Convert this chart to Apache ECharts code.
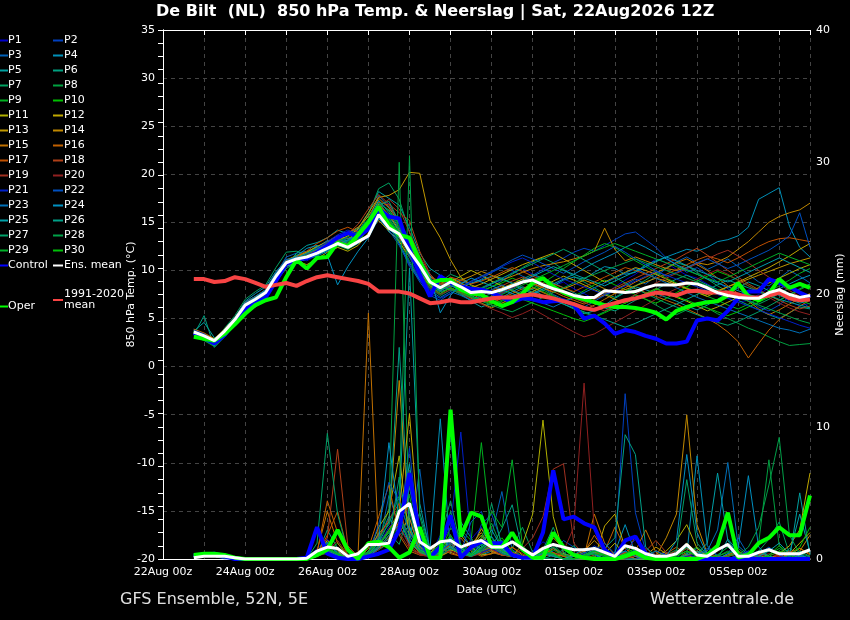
<!DOCTYPE html>
<html><head><meta charset="utf-8">
<script src="https://cdn.jsdelivr.net/npm/echarts@6/dist/echarts.min.js"></script>
<style>html,body{margin:0;padding:0;background:#000}#c{width:850px;height:620px}</style>
</head><body><div id="c"></div><script>
// x: lead hours since 22Aug 00z; first point 22Aug 18Z, 6-hourly
const firstHour = 18, stepHours = 6;
const tickLabels = ['22Aug 00z','24Aug 00z','26Aug 00z','28Aug 00z','30Aug 00z','01Sep 00z','03Sep 00z','05Sep 00z'];

const tempMean = [3.6,3.2,2.7,3.7,4.9,6.4,7.0,7.7,9.4,10.8, 11.2,11.4,11.8,12.3,12.8,12.4,13.0,13.6,15.8,14.4, 13.8,12.0,10.5,8.8,8.2,8.8,8.3,7.7,7.8,7.7, 8.0,8.4,8.8,9.0,8.5,8.1,7.8,7.4,7.2,7.2, 7.9,7.8,7.7,7.8,8.2,8.5,8.5,8.5,8.7,8.6, 8.2,7.7,7.4,7.2,7.1,7.1,7.7,8.0,7.5,7.2,7.4];
const tempControl = [3.5,3.0,2.4,3.3,4.6,6.0,6.6,7.2,8.9,10.7, 11.1,11.3,11.9,12.6,13.4,13.9,13.5,14.3,16.4,15.6, 15.4,12.2,9.6,7.3,9.4,8.7,8.3,8.1,8.0,7.7, 7.2,6.7,7.1,7.0,6.7,6.8,6.9,6.4,5.0,5.3, 4.5,3.4,3.8,3.6,3.2,2.9,2.4,2.4,2.6,4.8, 5.0,4.8,5.8,7.1,7.8,7.8,9.1,8.7,8.3,7.7,7.2];
const tempOper = [3.1,2.9,2.7,3.4,4.4,5.5,6.4,6.9,7.2,9.3, 11.1,10.2,11.3,11.4,12.9,12.5,13.7,15.0,16.6,14.7, 13.7,13.4,11.0,8.7,9.0,9.0,8.0,7.6,7.5,6.8, 6.3,6.7,7.6,8.7,9.2,8.3,7.7,7.3,7.0,6.7, 6.4,6.2,6.2,6.1,5.9,5.6,4.9,5.8,6.2,6.5, 6.7,6.8,7.4,8.7,7.3,6.9,7.6,9.1,8.2,8.6,8.2];
const tempClim = [9.1,9.1,8.8,8.9,9.3,9.1,8.7,8.3,8.5,8.7, 8.4,8.9,9.3,9.5,9.3,9.1,8.9,8.6,7.8,7.8, 7.8,7.6,7.1,6.6,6.7,6.9,6.7,6.7,6.9,7.1, 7.2,7.2,7.4,7.5,7.3,7.1,6.8,6.5,6.1,5.9, 6.3,6.6,6.9,7.1,7.4,7.7,7.6,7.4,7.8,7.9, 7.7,7.7,7.7,7.5,7.2,7.2,7.4,7.7,7.1,6.9,7.0];

const precMean = [0.1,0.2,0.2,0.2,0.1,0,0,0,0,0, 0,0.05,0.6,0.9,0.8,0.2,0.4,1.1,1.1,1.2, 3.6,4.2,1.3,0.8,1.3,1.4,0.9,1.2,1.4,0.9, 0.9,1.3,0.8,0.3,0.8,1.1,0.9,0.7,0.7,0.8, 0.5,0.2,1.0,0.8,0.4,0.2,0.2,0.4,1.1,0.3, 0.2,0.7,1.1,0.2,0.2,0.5,0.7,0.4,0.4,0.4,0.7];
const precControl = [0.3,0.3,0.4,0.2,0,0,0,0,0,0, 0,0.1,2.4,0.4,0.1,0,0,0.2,0.4,0.7, 2.2,6.5,1.7,0.1,0.9,3.3,0.1,0.9,1.3,1.2, 1.2,0.3,0.1,0.1,2.0,6.7,3.0,3.2,2.7,2.4, 0.7,0.1,1.4,1.7,0.4,0.1,0,0,0,0, 0,0,0,0,0,0,0,0,0,0,0];
const precOper = [0.3,0.4,0.4,0.3,0.1,0,0,0,0,0, 0,0,0.3,0.7,2.2,0.7,0,1.2,1.3,0.9, 0.1,0.5,2.4,0.1,0.1,11.3,1.7,3.5,3.2,0.9, 0.9,2.0,0.7,0.1,0.1,2.0,0.9,0.3,0.1,0, 0,0,0.2,0.5,0.1,0,0,0,0,0, 0.3,1.0,3.5,0.1,0.3,1.2,1.6,2.4,1.8,1.8,4.8];

const tP1 = [3.8,3.3,2.5,3.5,4.6,6.2,6.9,7.5,9.0,10.6, 11.5,11.0,11.6,12.6,13.4,13.0,13.8,14.5,16.5,17.0, 15.0,12.5,9.5,8.0,7.6,8.4,8.1,7.4,7.9,8.6, 9.0,9.8,10.2,9.6,9.0,8.4,8.8,8.1,7.6,7.0, 7.4,8.3,9.0,9.6,10.4,11.2,10.8,10.1,9.5,9.2, 8.6,8.0,7.1,6.7,6.9,7.5,8.2,7.6,6.8,6.3,6.6];
const tP2 = [3.5,3.0,2.3,3.9,5.1,6.6,7.3,7.9,9.8,11.2, 11.0,11.8,12.1,12.0,12.9,12.6,13.2,14.8,17.2,15.5, 12.8,10.4,9.0,8.2,7.8,8.9,8.5,8.0,7.3,7.0, 7.6,8.1,8.7,9.5,10.1,10.8,11.3,11.9,12.3,12.0, 12.6,13.2,13.8,14.0,13.2,12.4,11.3,10.6,9.8,10.3, 9.6,8.8,8.1,7.4,7.0,6.2,5.8,6.4,7.3,6.9,6.1];
const tP3 = [3.9,3.4,2.8,3.3,4.4,6.0,6.5,7.6,9.6,11.4, 11.8,12.0,12.4,12.2,13.0,13.6,14.2,15.2,17.8,16.6, 15.2,13.1,11.4,9.2,8.4,9.3,8.8,8.6,9.1,9.8, 10.3,10.0,9.4,9.0,8.2,7.5,7.0,6.6,6.2,6.8, 7.4,7.9,8.5,9.1,8.6,9.4,10.2,10.9,11.4,10.8, 10.1,10.6,11.2,10.4,9.6,8.8,8.4,9.2,10.0,9.4,8.7];
const tP4 = [3.4,2.9,2.2,3.6,5.0,6.8,7.6,8.3,9.9,11.0, 11.3,11.6,12.4,13.1,12.6,12.2,12.8,13.5,15.6,14.0, 13.2,12.0,10.8,9.6,8.6,7.9,8.2,8.7,9.0,9.4, 9.2,8.6,8.0,7.6,7.9,8.4,9.0,9.3,9.1,9.8, 10.4,10.2,9.6,9.8,10.6,11.0,11.4,11.8,12.2,12.0, 12.4,13.0,13.2,13.6,14.5,17.4,18.0,18.6,14.6,12.4,11.4];
const tP5 = [3.7,4.6,3.0,3.4,4.8,6.0,6.9,7.4,9.1,10.4, 11.8,12.6,12.9,13.4,14.2,13.8,14.4,16.0,18.2,17.5, 16.8,14.5,11.8,10.2,9.5,8.7,7.6,6.8,6.2,6.6, 7.2,7.8,8.3,8.0,7.4,7.0,6.5,6.0,5.5,5.8, 6.4,7.1,7.7,8.3,8.0,7.6,7.2,6.8,6.3,5.9, 6.4,7.0,7.6,8.2,8.8,8.4,7.9,7.4,7.0,6.6,6.9];
const tP6 = [3.3,5.3,2.0,3.1,4.3,5.6,6.2,7.0,8.8,10.2, 10.9,11.4,11.7,12.3,13.2,12.8,13.6,14.9,16.4,15.4, 13.6,11.9,10.1,8.6,7.8,8.1,7.5,6.9,7.2,7.6, 8.1,8.6,9.1,9.6,9.2,8.7,8.2,7.7,7.1,6.6, 6.1,5.8,6.3,6.9,7.4,8.0,8.6,9.1,9.5,9.0, 8.5,8.0,7.5,6.9,6.4,5.9,5.4,5.0,5.6,6.2,6.0];
const tP7 = [3.6,3.1,2.6,4.0,5.3,7.0,7.8,8.5,10.3,11.9, 12.0,11.6,12.2,12.9,13.5,13.1,14.0,15.8,18.5,19.1, 17.4,14.0,11.2,9.4,8.8,9.6,9.2,8.4,7.8,8.3, 8.9,9.6,10.3,10.9,11.3,10.8,10.1,9.4,8.8,8.2, 7.6,7.2,7.8,8.4,9.0,9.7,10.3,10.8,10.5,9.8, 9.1,8.4,7.8,7.3,6.8,6.5,7.0,7.6,8.2,8.7,8.3];
const tP8 = [3.2,2.7,2.1,3.2,4.5,6.1,6.7,7.4,9.2,10.5, 11.2,11.8,12.6,12.0,12.4,12.9,13.4,14.2,16.0,14.8, 13.1,11.0,9.2,8.1,7.4,8.0,7.8,7.2,6.6,6.2, 6.8,7.3,7.9,8.5,8.0,7.4,6.8,6.2,5.6,5.2, 5.7,6.3,6.9,7.4,7.0,6.4,5.8,5.4,5.9,6.5, 6.1,5.5,5.0,4.5,4.0,3.6,3.1,2.6,2.2,2.3,2.4];
const tP9 = [3.5,3.0,2.4,3.8,5.0,6.5,7.1,7.8,9.5,11.0, 11.6,11.9,12.3,12.8,13.3,13.0,13.7,15.0,17.0,16.2, 14.6,12.4,10.3,9.0,8.5,9.0,8.6,8.1,7.6,7.1, 6.6,7.2,7.6,8.1,8.7,9.4,10.2,10.9,11.6,12.3, 12.8,12.4,11.7,11.0,10.4,9.8,9.2,8.7,8.2,7.8, 7.3,6.9,6.4,6.0,6.5,7.1,7.8,8.4,9.0,9.7,10.2];
const tP10 = [3.4,2.9,2.3,3.5,4.7,6.3,6.8,7.6,9.3,10.9, 11.1,11.3,11.6,12.4,12.7,12.2,12.9,14.4,16.8,15.0, 13.4,11.7,9.8,8.4,7.9,8.5,8.1,7.5,7.9,8.3, 8.7,9.2,8.8,8.3,7.8,7.3,6.8,7.3,7.9,8.5, 9.0,8.5,8.0,7.5,7.0,6.6,7.1,7.7,8.3,8.9, 9.4,9.9,9.5,9.0,8.4,7.9,7.4,6.9,7.4,8.0,8.5];
const tP11 = [3.7,3.2,2.7,3.6,4.9,6.4,7.0,7.7,9.4,10.7, 11.0,10.6,11.2,11.9,12.4,12.0,12.6,13.9,15.2,14.1, 13.0,11.4,9.9,8.9,8.3,8.8,9.4,10.0,9.5,8.9, 8.4,7.9,7.4,7.8,8.3,8.9,9.4,9.0,8.5,8.0, 7.5,7.0,6.6,7.1,7.6,8.1,7.7,7.2,6.8,6.3, 5.8,6.2,6.7,7.2,7.7,8.2,8.7,9.2,9.7,10.2,10.6];
const tP12 = [3.8,3.4,2.9,3.9,5.1,6.7,7.3,8.0,9.7,11.1, 11.5,11.9,12.5,13.0,13.6,13.3,13.9,14.6,16.9,15.8, 14.2,12.3,10.6,9.4,8.6,9.2,8.7,8.2,8.6,9.1, 9.6,10.1,10.6,11.0,11.4,11.8,11.2,10.6,10.0,9.4, 8.8,9.3,9.8,10.3,10.0,9.6,9.1,8.6,8.1,7.7, 7.3,7.8,8.3,8.8,9.3,9.8,10.3,10.9,11.5,12.2,12.8];
const tP13 = [3.6,3.1,2.6,3.7,4.8,6.2,6.8,7.5,9.1,10.5, 10.8,11.2,11.9,12.6,13.1,13.6,14.3,16.0,17.6,17.8, 18.4,20.2,20.1,15.2,13.4,11.1,9.3,8.5,8.1,7.8, 8.2,8.6,9.1,8.7,8.2,7.7,8.1,8.5,9.0,8.6, 8.1,7.6,8.0,8.4,8.8,9.2,8.9,8.5,8.1,7.8, 7.5,7.9,8.3,8.7,9.1,9.5,9.9,10.3,10.7,11.0,11.3];
const tP14 = [3.5,3.0,2.5,3.4,4.6,6.0,6.6,7.3,9.0,10.4, 11.2,11.7,12.2,12.7,13.4,13.9,14.5,15.6,17.5,16.5, 15.0,12.8,10.4,8.8,8.0,8.5,9.0,9.4,9.9,9.5, 9.0,9.4,9.8,10.2,10.5,10.7,10.9,11.2,11.5,12.0, 14.4,12.2,11.0,11.4,11.0,10.6,10.2,10.0,10.3,10.8, 10.6,10.9,11.4,12.2,13.0,14.0,15.0,15.6,16.0,16.3,17.0];
const tP15 = [3.9,3.5,2.9,3.8,5.0,6.5,7.2,7.9,9.5,11.0, 11.4,11.8,12.1,12.5,13.0,12.6,13.3,14.5,16.7,15.8, 14.0,11.8,9.8,8.4,7.6,8.2,7.7,7.1,6.6,6.1, 6.6,7.1,7.7,8.2,7.7,7.2,6.8,6.3,5.9,6.4, 7.0,7.6,8.2,8.8,9.3,9.8,10.2,10.8,11.2,10.6, 10.0,9.2,8.4,7.6,6.8,6.0,5.4,5.9,6.5,7.1,7.6];
const tP16 = [3.6,3.2,2.6,3.6,4.8,6.3,7.0,7.7,9.3,10.8, 11.2,11.5,12.0,12.6,13.0,12.7,13.4,14.7,16.2,15.0, 13.4,11.5,9.8,8.6,8.0,8.6,8.2,7.6,7.0,6.6, 7.1,7.6,8.1,8.6,8.2,7.8,7.3,6.9,6.5,7.0, 7.5,8.0,8.5,8.1,7.7,7.3,6.9,6.5,6.0,5.5, 5.0,4.4,3.6,2.6,0.9,2.4,3.8,4.9,5.6,6.3,6.9];
const tP17 = [3.7,3.3,2.8,3.7,4.9,6.5,7.2,7.9,9.6,11.0, 11.5,12.0,12.8,13.4,14.1,14.5,14.0,15.1,17.1,16.8, 15.2,13.0,10.8,9.3,8.7,9.3,9.0,8.6,8.9,9.3, 9.8,10.3,9.9,9.4,9.0,8.6,8.2,7.8,8.3,8.8, 9.3,9.8,10.3,10.0,9.6,9.2,9.6,10.1,10.6,11.1, 11.5,11.2,10.8,11.3,11.9,12.5,13.0,13.3,13.4,13.2,13.0];
const tP18 = [3.5,3.1,2.5,3.5,4.7,6.2,6.9,7.6,9.2,10.6, 11.0,11.4,12.0,12.6,13.3,13.8,14.8,16.4,17.9,16.9, 16.0,15.2,12.0,9.6,8.5,9.0,8.6,8.0,7.5,7.9, 8.4,8.9,9.3,8.9,8.4,8.0,7.5,7.1,6.7,7.2, 7.7,8.2,8.7,9.2,9.7,10.2,10.7,11.2,11.8,12.3, 11.6,10.8,10.0,9.3,8.6,8.0,7.4,6.9,6.4,6.0,6.3];
const tP19 = [3.6,3.1,2.5,3.6,4.8,6.4,7.0,7.6,9.3,10.7, 11.1,11.6,12.2,12.8,13.2,12.8,13.5,14.9,16.6,17.4, 16.4,14.0,11.5,9.6,8.6,8.2,7.7,7.2,6.8,7.2, 7.7,8.2,8.7,9.2,8.7,8.2,7.7,7.2,6.7,6.2, 5.8,6.3,6.9,7.5,8.1,8.7,9.2,9.7,10.2,10.7, 11.2,11.7,12.1,11.5,10.8,10.0,9.3,8.6,7.9,7.3,6.8];
const tP20 = [3.4,2.9,2.4,3.4,4.6,6.1,6.8,7.5,9.1,10.5, 10.9,11.3,11.8,12.4,12.9,12.5,13.2,14.6,16.3,15.1, 13.6,11.6,9.6,8.2,7.5,8.0,7.6,7.0,6.5,6.0, 5.6,5.1,5.5,6.0,5.4,4.8,4.2,3.6,3.1,3.4, 4.0,4.6,5.2,5.8,6.4,7.0,7.6,8.1,8.6,9.1, 9.6,10.1,9.6,9.0,8.4,7.8,7.2,6.6,6.1,5.7,5.4];
const tP21 = [3.8,3.4,2.7,3.8,5.0,6.5,7.1,7.8,9.5,10.9, 11.3,11.7,12.3,13.0,13.7,14.2,13.8,14.6,16.0,15.3, 13.8,11.4,9.0,7.6,7.1,7.6,8.2,8.8,9.3,9.8, 10.4,10.9,11.3,10.8,10.2,9.6,9.1,8.7,8.3,7.9, 7.5,7.9,8.4,8.9,9.4,9.9,9.5,9.1,8.7,8.3, 7.9,7.5,7.1,6.7,6.3,5.9,5.5,5.1,4.7,4.3,4.0];
const tP22 = [3.5,3.0,2.4,3.5,4.7,6.2,6.8,7.5,9.2,10.6, 11.0,11.4,11.9,12.3,12.9,13.4,12.9,13.6,15.4,14.2, 12.6,10.6,8.8,7.4,6.9,7.6,8.3,8.9,9.4,9.9, 10.5,11.1,11.6,11.2,10.7,10.2,9.7,10.3,10.9,11.4, 11.9,12.5,11.9,11.2,10.6,10.0,9.4,9.8,10.3,10.8, 11.2,10.7,10.2,10.6,11.1,11.6,12.1,12.8,13.6,16.0,12.4];
const tP23 = [3.7,3.2,2.6,3.8,5.1,6.7,7.3,8.0,9.7,11.1, 11.4,11.2,11.5,12.0,12.6,13.1,13.7,14.4,15.9,14.6, 12.8,10.8,9.0,7.9,7.2,7.8,7.4,6.9,7.4,8.0, 8.5,8.0,7.5,7.0,6.6,6.2,6.7,7.2,7.7,8.2, 8.7,9.2,9.7,10.2,9.7,9.2,8.7,8.2,7.7,7.2, 6.8,6.4,6.0,5.6,5.2,4.8,4.4,4.0,3.8,3.5,3.9];
const tP24 = [3.6,3.1,2.5,3.6,4.9,6.5,7.2,7.9,9.6,10.9, 11.5,12.3,12.6,11.6,8.5,10.4,12.0,13.4,15.4,14.3, 13.4,12.6,11.0,9.4,5.6,7.4,8.6,9.2,8.8,8.4, 8.0,7.6,7.2,7.6,8.1,8.6,9.1,9.6,10.2,10.8, 11.3,11.8,12.4,12.9,12.4,11.8,11.2,10.6,10.1,9.6, 9.1,8.7,8.3,7.9,7.5,7.2,7.6,8.1,8.6,9.1,9.5];
const tP25 = [3.3,2.8,2.2,3.3,4.5,6.0,6.6,7.3,9.0,10.4, 10.8,11.2,11.6,12.1,12.7,13.2,13.8,15.2,17.3,16.0, 14.4,12.2,10.0,8.6,7.9,8.4,8.0,7.4,6.9,7.3, 7.8,8.3,8.9,9.4,9.9,10.4,10.0,9.6,9.2,8.8, 8.4,8.9,9.4,9.9,10.4,10.9,11.4,11.0,10.5,10.0, 9.6,9.2,8.8,9.3,9.8,10.3,10.8,11.3,10.8,10.3,9.8];
const tP26 = [3.7,3.3,2.7,3.7,4.9,6.4,7.1,7.8,9.5,10.9, 11.3,11.8,12.2,12.7,13.3,12.8,13.4,14.8,16.6,15.6, 14.1,12.0,9.9,8.6,8.0,8.6,8.2,7.7,8.1,8.6, 9.1,8.7,8.2,7.7,7.3,6.9,6.5,6.1,5.7,5.3, 4.9,4.5,4.1,4.5,5.0,5.5,6.0,6.5,7.0,7.5, 8.0,8.5,9.0,8.6,8.2,7.8,7.4,7.0,6.7,6.4,6.1];
const tP27 = [3.5,3.1,2.6,3.6,4.8,6.3,6.9,7.6,9.3,10.7, 11.1,11.5,11.8,12.2,12.8,12.4,13.1,14.5,16.8,17.2, 15.0,12.4,10.1,8.8,8.2,8.7,8.3,7.8,8.2,8.7, 9.2,9.7,10.2,10.7,11.2,11.7,12.2,11.7,11.1,10.5, 9.9,9.3,8.7,8.1,7.6,7.1,6.6,6.2,5.8,5.4, 5.0,4.6,4.3,4.7,5.2,5.7,6.3,6.9,7.5,8.1,8.6];
const tP28 = [3.4,3.0,2.3,3.4,4.6,6.1,6.7,7.4,9.1,10.6, 11.0,11.4,11.9,12.4,13.0,13.5,14.0,15.4,17.0,16.3, 14.8,12.9,10.7,9.1,8.4,8.0,7.6,7.2,6.8,6.4, 6.0,5.7,6.2,6.7,7.2,7.7,8.2,8.7,9.2,9.6, 10.0,10.4,10.8,11.2,10.8,10.4,10.0,9.6,9.2,8.8, 8.4,8.0,7.6,7.2,6.8,6.4,6.0,5.6,5.2,4.8,4.5];
const tP29 = [3.6,3.2,2.6,3.7,4.9,6.4,7.0,7.7,9.4,10.8, 11.2,11.6,12.0,12.5,13.0,12.6,13.3,14.7,16.5,15.4, 13.9,11.9,10.0,8.7,8.1,8.7,8.3,7.8,7.4,7.0, 7.5,8.0,8.5,9.0,9.5,10.0,10.5,11.0,11.5,12.0, 12.4,12.8,12.4,12.0,11.6,11.2,10.8,10.4,10.0,9.6, 9.2,8.8,9.3,9.8,10.3,10.8,11.3,11.8,11.4,11.0,10.6];
const tP30 = [3.5,3.0,2.5,3.5,4.7,6.2,6.9,7.6,9.2,10.6, 11.0,11.4,11.8,12.3,12.9,12.5,13.2,14.5,16.2,15.2, 13.7,11.6,9.6,8.3,7.6,8.2,7.8,7.3,6.9,6.5, 6.9,7.4,7.0,6.6,6.2,5.8,5.4,5.0,4.7,5.1, 5.6,6.1,6.6,7.1,7.6,8.1,7.7,7.3,6.9,6.5, 6.1,5.7,5.3,5.7,6.2,6.7,7.2,7.7,7.3,6.9,6.5];

const pP1 = [0.2,0.3,0.3,0.1,0,0,0,0,0,0, 0,0,0.8,1.5,0.6,0,0,0.4,1.8,2.6, 5.2,3.1,0.6,0.2,1.8,0.9,0.3,1.5,2.4,1.1, 0.4,0.2,0,0.6,1.3,0.8,0.2,0,0,0.5, 0.8,0.3,0,0,0,0.2,0.5,0,0,0, 0,0.3,0.9,0.2,0,0,0,0.4,0.6,0.2,0];
const pP2 = [0.1,0.2,0.2,0,0,0,0,0,0,0, 0,0,0.3,0.4,0,0,0.2,1.2,1.6,0.8, 2.2,8.4,1.0,0.3,0.5,9.6,0.8,0.4,2.6,3.4, 1.2,0.5,0.2,0,0.3,0.6,1.4,0.9,0.3,0, 0,0.3,12.5,3.5,0.6,0,0,0,0.2,0.1, 0,0,0,0.3,0.1,0,0,0,0,0.2,0];
const pP3 = [0.3,0.2,0.4,0.2,0,0,0,0,0,0, 0,0,0.2,1.2,0.4,0,0,0.6,0.9,4.8, 2.5,1.2,6.8,0.4,0.2,1.6,0.5,1.2,0.8,1.8, 5.1,0.7,0.2,0,0,0.8,0.4,0,0,0, 0.6,0,0,0,0,0,0,0,1.2,0.3, 0,0,0.4,1.6,0.3,0,0,0,0,0.2,0];
const pP4 = [0.2,0.2,0.3,0.1,0,0,0,0,0,0, 0,0,0.4,0.8,0.2,0,0,0.3,1.5,3.2, 1.8,2.5,0.5,0.8,10.6,0.4,2.1,0.9,0.3,0.6, 1.4,0.4,0.1,0,0.4,0.9,0.3,0,0,0, 0,0.5,2.6,0.4,0,0,0,0,0.3,7.8, 1.0,0.2,0,0,0,0.4,0.2,0,0,0,0];
const pP5 = [0.3,0.4,0.3,0.2,0,0,0,0,0,0, 0,0,0.5,0.9,0.3,0,0,0.2,0.7,1.2, 3.8,22.0,4.2,0.6,0.4,1.4,0.8,0.3,0.6,1.0, 0.6,0.3,0,0.2,0.8,0.5,0,0,0.1,0, 0,0,0,0,0,0,0,0,0.4,0.8, 0.3,0,1.5,0.6,0,0,0,0,0,5.0,0.3];
const pP6 = [0.2,0.3,0.2,0.1,0,0,0,0,0,0, 0,0,0.3,2.2,0.8,0.2,0,0.5,2.0,1.4, 6.2,1.8,3.5,0.8,0.3,0.6,2.8,1.6,0.4,0.9, 2.3,4.1,0.6,0.2,0,0.3,0.7,0.2,0,0, 0,0.2,0.4,0,0,0,0,0.3,1.2,0.4, 0,0,0,0.2,0.6,0.2,0,0,0.8,0.3,0];
const pP7 = [0.3,0.2,0.3,0.2,0,0,0,0,0,0, 0,0,0.2,0.6,0.3,0,0,0.8,1.2,2.0, 1.1,3.6,0.7,0.2,1.6,4.4,0.9,0.4,1.2,0.5, 0.3,0.8,2.4,0.5,0.1,0,0.4,1.0,0.3,0, 0,0,0.6,0.2,0,0,0,0,0,0.3, 0.5,0.2,0,0,0,0.6,1.5,2.8,0.4,0,0.2];
const pP8 = [0.2,0.2,0.3,0.1,0,0,0,0,0,0, 0,0,0.4,1.0,0.5,0,0,0.3,1.4,3.8, 30.0,2.4,0.6,0.3,0.8,1.8,0.5,0.2,0.9,2.7, 0.8,0.3,0,0,0.6,1.1,0.3,0,0,0, 0.2,0,0,0,0,0,0.3,0.7,0.2,0, 0,0,0.3,0.8,0.2,1.2,7.5,1.0,0.2,0,0];
const pP9 = [0.3,0.3,0.2,0.2,0,0,0,0,0,0, 0,0,0.3,0.7,0.2,0,0,0.4,0.8,1.6, 2.4,4.8,1.2,0.4,0.6,1.0,2.2,1.4,8.8,1.6, 0.5,0.2,0,0.3,0.9,0.4,0,0,0,0.2, 0.4,0,0,0,0,0,0,0,0.5,0.9, 0.3,0,0,0,0,0.4,0.8,0.3,0,0,0];
const pP10 = [0.3,0.4,0.3,0.2,0,0,0,0,0,0, 0,0,0.2,0.5,1.2,0.3,0,0.6,1.4,0.9, 4.4,2.0,0.8,0.2,0.4,2.4,1.1,0.6,0.3,0.8, 1.6,0.6,0.2,0,0.3,0.7,0.2,0,0.4,0.9, 0.3,0,0,0,0.3,0.6,0.2,0,0,0, 0,0.2,0.5,0,0,0,0.3,1.0,0.4,0.2,0];
const pP11 = [0.2,0.2,0.2,0.1,0,0,0,0,0,0, 0,0,0.3,0.8,0.4,0,0,0.5,2.4,3.6, 7.8,1.5,0.4,0.2,0.3,0.7,0.4,0.9,1.8,0.6, 0.3,0.2,1.1,3.4,10.5,3.2,0.4,0.2,0,0, 0.4,1.2,0.3,0,0,0.2,0.6,1.4,2.6,0.8, 0.2,0,0,0,0,0.3,0,0,0.4,1.2,2.0];
const pP12 = [0.2,0.3,0.2,0.1,0,0,0,0,0,0, 0,0,0.4,1.4,0.6,0,0,0.3,1.0,2.2, 3.6,11.0,1.4,0.5,0.2,0.6,1.8,0.9,0.3,0.4, 0.7,0.3,0,0.2,0.5,1.6,0.8,0.3,0,0, 2.5,3.4,0.8,0.2,0,0,0,0.4,1.2,0.5, 0,0,0.2,0.5,0.3,0,0,0.4,1.0,2.2,6.5];
const pP13 = [0.2,0.2,0.3,0.1,0,0,0,0,0,0, 0,0,0.2,0.6,0.3,0,0,0.4,0.8,1.2, 2.0,3.1,0.6,0.4,1.5,0.8,0.3,0.7,2.3,1.0, 0.4,0.9,0.3,0,0.2,0.4,0.2,0,0.2,0.5, 0.3,0,0.4,0,0.3,0.9,0.4,0,0.2,0.6, 0.2,0,0,0,0.4,0.2,0,0,0.3,0.8,0.4];
const pP14 = [0.2,0.3,0.2,0.1,0,0,0,0,0,0, 0,0,0.3,0.9,0.3,0,0,0.6,1.9,2.8, 13.5,2.2,0.5,0.3,0.9,0.5,0.2,1.1,2.0,0.7, 0.3,0.2,0,0.5,0.9,0.3,0,0.3,0.6,1.4, 0.6,0.2,0.5,0.3,0,0.2,1.6,3.4,10.9,2.6, 0.4,0,0,0,0.2,0.5,0.2,0,0,0.6,1.8];
const pP15 = [0.2,0.2,0.2,0.1,0,0,0,0,0,0, 0,0,0.6,3.6,1.2,0.2,0.5,18.6,0.8,1.6, 2.8,4.2,0.9,0.3,0.4,1.2,0.5,0.2,0.6,0.9, 0.4,0.2,0,0.2,0.6,0.3,0,0,0.2,3.4, 1.2,0.3,0,0.6,2.2,0.5,0,0,0.3,0.6, 0.2,0,0,0,0,0.3,0.7,0.2,0,0,0];
const pP16 = [0.2,0.2,0.3,0.1,0,0,0,0,0,0, 0,0,0.5,4.4,2.0,0.3,0,0.8,3.2,5.6, 1.8,0.6,0.3,0.2,0.5,0.9,1.6,0.6,0.2,0.4, 1.1,0.5,0.2,0,0.3,0.8,0.3,0,0.5,1.8, 0.6,2.4,0.8,0.2,0,0,0.4,0.9,0.3,0, 0,0,0.3,0.6,0.2,0,0,0,0.5,0.8,0.3];
const pP17 = [0.2,0.3,0.2,0.1,0,0,0,0,0,0, 0,0,0.4,1.8,3.6,0.6,0,0.4,1.2,2.2, 3.5,1.2,0.5,0.3,0.9,0.4,0.2,0.8,1.6,0.5, 0.3,0.9,0.4,0,0.2,0.5,0.2,0,0,0.3, 0.6,0.2,0,1.8,0.5,0,0,0.3,0.8,0.3, 0,0,0,0.2,0.4,0.2,0,0.3,0.6,0.2,0];
const pP18 = [0.2,0.2,0.2,0.1,0,0,0,0,0,0, 0,0,0.3,1.6,8.3,1.0,0.2,0.4,1.6,3.0, 4.2,0.8,0.4,0.2,0.6,1.0,0.4,0.2,0.5,0.9, 0.4,0.2,0,0.3,0.6,0.2,0,0,0.2,0.6, 0.3,0,0,0.2,0.6,1.4,0.5,0,0,0.2, 0.4,0.2,0,0,0,0.3,0.8,0.3,0,0,0];
const pP19 = [0.2,0.2,0.3,0.1,0,0,0,0,0,0, 0,0,0.2,0.6,1.4,0.3,0,0.3,0.9,1.8, 2.5,1.0,0.4,0.2,0.3,0.8,0.5,0.2,0.4,0.7, 0.3,0.2,0.8,1.6,3.2,6.8,7.2,1.2,0.3,0, 0,0.2,0.5,0.2,0,0,0.3,0.6,0.2,0, 0,0,0.2,0.4,0,0,0,0.2,0.5,0.2,0];
const pP20 = [0.2,0.2,0.2,0.1,0,0,0,0,0,0, 0,0,0.2,0.5,0.9,0.2,0,0.2,0.7,1.4, 2.0,0.8,0.3,0.2,0.4,0.6,0.3,0.2,0.6,1.2, 0.5,0.2,0,0.2,0.4,0.2,0.6,2.4,13.3,2.2, 0.4,0,0,0.3,0.8,0.3,0,0,0.2,0.5, 0.2,0,0,0,0,0.2,0.4,0.2,0,0,0];
const pP21 = [0.3,0.3,0.2,0.2,0,0,0,0,0,0, 0,0,0.4,0.9,0.3,0,0,0.5,1.1,2.4, 3.2,1.5,0.6,0.3,1.0,2.4,9.6,1.2,0.5,0.8, 0.4,0.2,0,0.3,0.7,0.3,0,0,0.4,1.0, 0.5,0.2,0.6,1.5,0.4,0,0,0,0.2,0.4, 0.2,0,0,0.3,0.6,0.2,0,0,0,0.3,0];
const pP22 = [0.2,0.3,0.3,0.1,0,0,0,0,0,0, 0,0,0.3,0.6,0.2,0,0,0.4,2.6,5.8, 4.4,2.0,0.8,0.4,0.6,1.2,0.5,2.8,3.6,1.0, 0.5,0.2,0,0.2,0.5,0.3,0,0,0.2,0.6, 1.2,0.4,0,0,0.2,0.6,0.3,0,0,0.3, 0.8,0.3,0,0,0,0.4,0.9,0.3,0,0,0.2];
const pP23 = [0.2,0.2,0.2,0.1,0,0,0,0,0,0, 0,0,0.5,1.2,0.4,0,0,0.3,0.9,1.5, 2.2,5.4,1.6,0.5,0.3,0.8,0.4,0.2,0.6,1.4, 0.7,0.3,0,0.2,0.6,0.3,0,0.2,0.5,0.3, 0,0,0.3,0.7,0.2,0,0,0.4,1.0,0.3, 0.6,2.2,7.3,1.0,0.3,0,0,0,0.2,0.4,0];
const pP24 = [0.3,0.2,0.3,0.2,0,0,0,0,0,0, 0,0,0.2,0.7,0.3,0,0,0.6,1.4,8.8, 3.0,1.2,0.6,0.3,0.5,1.6,0.6,0.3,0.8,1.7, 0.6,0.3,0,0.2,0.4,0.2,0,0.3,0.8,0.4, 0,0.3,0.6,0.2,0,0,0.2,1.4,7.9,2.0, 0.3,0,0.4,0.8,6.3,0.9,0.2,0,0,0.3,0];
const pP25 = [0.2,0.3,0.2,0.1,0,0,0,0,0,0, 0,0,0.3,0.8,0.4,0,0,0.2,0.8,1.8, 2.6,7.2,1.0,0.4,0.6,0.9,0.4,0.3,1.1,2.2, 0.8,0.3,0,0.2,0.5,0.3,0,0,0.3,0.7, 0.3,0,0.2,0.5,0.2,0,0,0.3,0.9,0.4, 1.2,6.5,1.4,0.3,0,0.2,0.6,1.2,0.4,3.4,0.5];
const pP26 = [0.2,0.2,0.3,0.1,0,0,0,0,0,0, 0,0,0.4,1.3,0.5,0,0,0.4,1.2,2.8, 16.0,2.4,0.7,0.3,0.4,1.0,0.5,0.2,0.7,1.3, 0.5,0.2,0,0.3,0.6,0.2,0,0,0.2,0.5, 0.8,1.6,9.4,7.9,0.9,0.2,0,0,0.3,0.6, 0.2,0,0,0,0.3,0.6,0.2,0,0,0.2,0];
const pP27 = [0.2,0.3,0.2,0.1,0,0,0,0,0,0, 0,0,1.2,9.5,3.4,0.5,0,0.3,1.0,2.0, 3.2,1.8,0.5,0.2,0.4,3.6,0.8,0.3,0.9,4.2, 0.9,0.3,0,0.2,0.7,2.4,0.5,0,0.2,0.6, 0.3,0,0.3,0.9,0.3,0,0,0.6,6.0,1.2, 0.3,0,0,0.2,0.5,0.2,0,0,0.3,0.6,0.2];
const pP28 = [0.3,0.2,0.3,0.2,0,0,0,0,0,0, 0,0,0.3,0.7,0.3,0,0,0.5,1.6,2.6, 4.8,30.5,3.2,0.5,0.3,0.8,0.4,0.2,0.6,1.0, 0.4,0.2,0,0.2,0.5,0.3,0,0,0.2,0.4, 0.2,0,0.2,0.6,0.2,0,0,0.3,0.9,0.3, 0,0.2,0.6,0.3,0.9,2.4,5.6,9.2,1.8,0.4,0.2];
const pP29 = [0.2,0.3,0.2,0.1,0,0,0,0,0,0, 0,0,0.4,0.9,0.4,0,0,0.4,1.0,2.2, 3.0,1.4,0.6,0.3,1.2,2.8,0.9,0.4,1.6,3.6, 2.4,7.5,1.0,0.3,0.5,0.9,0.3,0,0.2,0.4, 0.3,0.2,0.9,0.4,0,0,0,0.2,0.6,0.3, 0,0,0.2,0.5,0.2,0,0.3,0.8,0.3,0,0];
const pP30 = [0.3,0.3,0.3,0.2,0,0,0,0,0,0, 0,0,0.3,0.8,0.4,0,0,0.6,1.2,2.0, 3.6,5.8,1.2,0.4,0.5,1.8,0.6,0.3,0.8,1.4, 0.6,0.3,0,0.2,0.6,0.4,0,0,0.3,0.6, 0.3,0,0.4,0.8,0.3,0,0,0.3,0.6,0.2, 0,0.3,0.9,0.4,0,0,0.2,0.6,0.3,0.9,2.4];

const tempMembers = [tP1,tP2,tP3,tP4,tP5,tP6,tP7,tP8,tP9,tP10,tP11,tP12,tP13,tP14,tP15,tP16,tP17,tP18,tP19,tP20,tP21,tP22,tP23,tP24,tP25,tP26,tP27,tP28,tP29,tP30];
const precMembers = [pP1,pP2,pP3,pP4,pP5,pP6,pP7,pP8,pP9,pP10,pP11,pP12,pP13,pP14,pP15,pP16,pP17,pP18,pP19,pP20,pP21,pP22,pP23,pP24,pP25,pP26,pP27,pP28,pP29,pP30];
const memberColors = ['#0000c8','#0040c0','#0060b8','#0090b8','#00a0a0','#00a080','#00a060','#00a040','#00b020','#00c000',
  '#b0b000','#c0a800','#c09800','#c08800','#c07000','#c06000','#c05000','#b04018','#a03020','#902020',
  '#0020c8','#0050c0','#0070b8','#0090c0','#00a0a8','#00a088','#00a068','#00a048','#00b028','#00c008'];
const memberNames = memberColors.map((c,i)=>'P'+(i+1));

const toXY = arr => arr.map((v,i)=>[firstHour + stepHours*i, v]);
const FONT = 'DejaVu Sans';
const series = [];
memberNames.forEach((n,i)=>{
  series.push({name:n,type:'line',yAxisIndex:0,data:toXY(tempMembers[i]),showSymbol:false,symbol:'none',
    lineStyle:{width:1,color:memberColors[i]},itemStyle:{color:memberColors[i]},silent:true});
});
memberNames.forEach((n,i)=>{
  series.push({name:n,type:'line',yAxisIndex:1,data:toXY(precMembers[i]),showSymbol:false,symbol:'none',
    lineStyle:{width:1,color:memberColors[i]},itemStyle:{color:memberColors[i]},silent:true});
});
const mainLine = (name,data,axis,color,w)=>({name,type:'line',yAxisIndex:axis,data:toXY(data),showSymbol:false,symbol:'none',
  lineStyle:{width:w,color},itemStyle:{color},silent:true});
series.push(mainLine('Control',tempControl,0,'#0000ff',4));
series.push(mainLine('Control',precControl,1,'#0000ff',4));
series.push(mainLine('Oper',tempOper,0,'#00ff00',4));
series.push(mainLine('Oper',precOper,1,'#00ff00',4));
series.push(mainLine('1991-2020 mean',tempClim,0,'#f84444',4));
series.push(mainLine('Ens. mean',tempMean,0,'#ffffff',3));
series.push(mainLine('Ens. mean',precMean,1,'#ffffff',3));

const legendL = {orient:'vertical',itemWidth:8,itemHeight:2,icon:'rect',itemGap:4,padding:0,selectedMode:false,
  textStyle:{color:'#fff',fontSize:11,fontFamily:FONT,padding:[0,0,0,-5]}};
const legendR = {orient:'vertical',itemWidth:10,itemHeight:2,icon:'rect',itemGap:4,padding:0,selectedMode:false,
  textStyle:{color:'#fff',fontSize:11,fontFamily:FONT,padding:[0,0,0,-4]}};
const leftCol = memberNames.filter((n,i)=>i%2===0).concat(['Control']);
const rightCol = memberNames.filter((n,i)=>i%2===1).concat(['Ens. mean']);

const chart = echarts.init(document.getElementById('c'),null,{renderer:'canvas'});
chart.setOption({
  backgroundColor:'#000',
  animation:false,
  textStyle:{fontFamily:FONT},
  title:[
    {text:'De Bilt  (NL)  850 hPa Temp. & Neerslag | Sat, 22Aug2026 12Z',left:156,top:4,padding:0,
     textStyle:{color:'#fff',fontSize:16,fontWeight:'bold',fontFamily:FONT}},
    {text:'GFS Ensemble, 52N, 5E',left:120,top:592,padding:0,textStyle:{color:'#e0e0e0',fontSize:16,fontWeight:'normal',fontFamily:FONT}},
    {text:'Wetterzentrale.de',left:650,top:592,padding:0,textStyle:{color:'#e0e0e0',fontSize:16,fontWeight:'normal',fontFamily:FONT}}
  ],
  legend:[
    Object.assign({},legendL,{data:leftCol,left:0,top:35}),
    Object.assign({},legendR,{data:rightCol,left:53,top:35}),
    Object.assign({},legendL,{data:['Oper'],left:0,top:301}),
    Object.assign({},legendR,{data:['1991-2020 mean'],left:53,top:289,
      formatter:n=>n.replace(' ','\n')})
  ],
  grid:{left:163,right:40,top:30,bottom:61,containLabel:false,outerBoundsMode:'none'},
  xAxis:[
    {type:'value',min:0,max:378,interval:24,position:'bottom',
     name:'Date (UTC)',nameLocation:'middle',nameGap:26,nameMoveOverlap:false,nameTextStyle:{color:'#fff',fontSize:11,fontFamily:FONT},
     axisLine:{show:true,onZero:false,lineStyle:{color:'#fff',width:1}},
     axisTick:{show:false},
     axisLabel:{color:'#fff',fontSize:11,fontFamily:FONT,margin:8,showMaxLabel:false,
       formatter:v=>{const d=Math.round(v/24);return d%2===0?(tickLabels[d/2]||''):'';}},
     splitLine:{show:true,lineStyle:{color:'#444',type:[4,4],width:1}}},
    {type:'value',min:0,max:378,interval:24,position:'top',
     axisLine:{show:true,onZero:false,lineStyle:{color:'#fff',width:1}},
     axisTick:{show:true,inside:true,length:5,lineStyle:{color:'#fff'}},
     axisLabel:{show:false},splitLine:{show:false}}
  ],
  yAxis:[
    {type:'value',min:-20,max:35,interval:5,position:'left',
     name:'850 hPa Temp. (°C)',nameLocation:'middle',nameGap:26,nameRotate:90,nameMoveOverlap:false,
     nameTextStyle:{color:'#fff',fontSize:11,fontFamily:FONT},
     axisLine:{show:true,lineStyle:{color:'#fff',width:1}},axisTick:{show:false},
     axisLabel:{color:'#fff',fontSize:11,fontFamily:FONT,margin:8},
     splitLine:{show:true,lineStyle:{color:'#444',type:[4,4],width:1}}},
    {type:'value',min:0,max:40,interval:10,position:'right',
     name:'Neerslag (mm)',nameLocation:'middle',nameGap:25,nameRotate:90,nameMoveOverlap:false,
     nameTextStyle:{color:'#fff',fontSize:11,fontFamily:FONT},
     axisLine:{show:true,lineStyle:{color:'#fff',width:1}},
     axisTick:{show:true,inside:true,length:5,lineStyle:{color:'#fff'}},
     minorTick:{show:true,splitNumber:10,length:5,lineStyle:{color:'#fff'}},
     axisLabel:{color:'#fff',fontSize:11,fontFamily:FONT,margin:6},
     splitLine:{show:false}}
  ],
  series
});
</script></body></html>
